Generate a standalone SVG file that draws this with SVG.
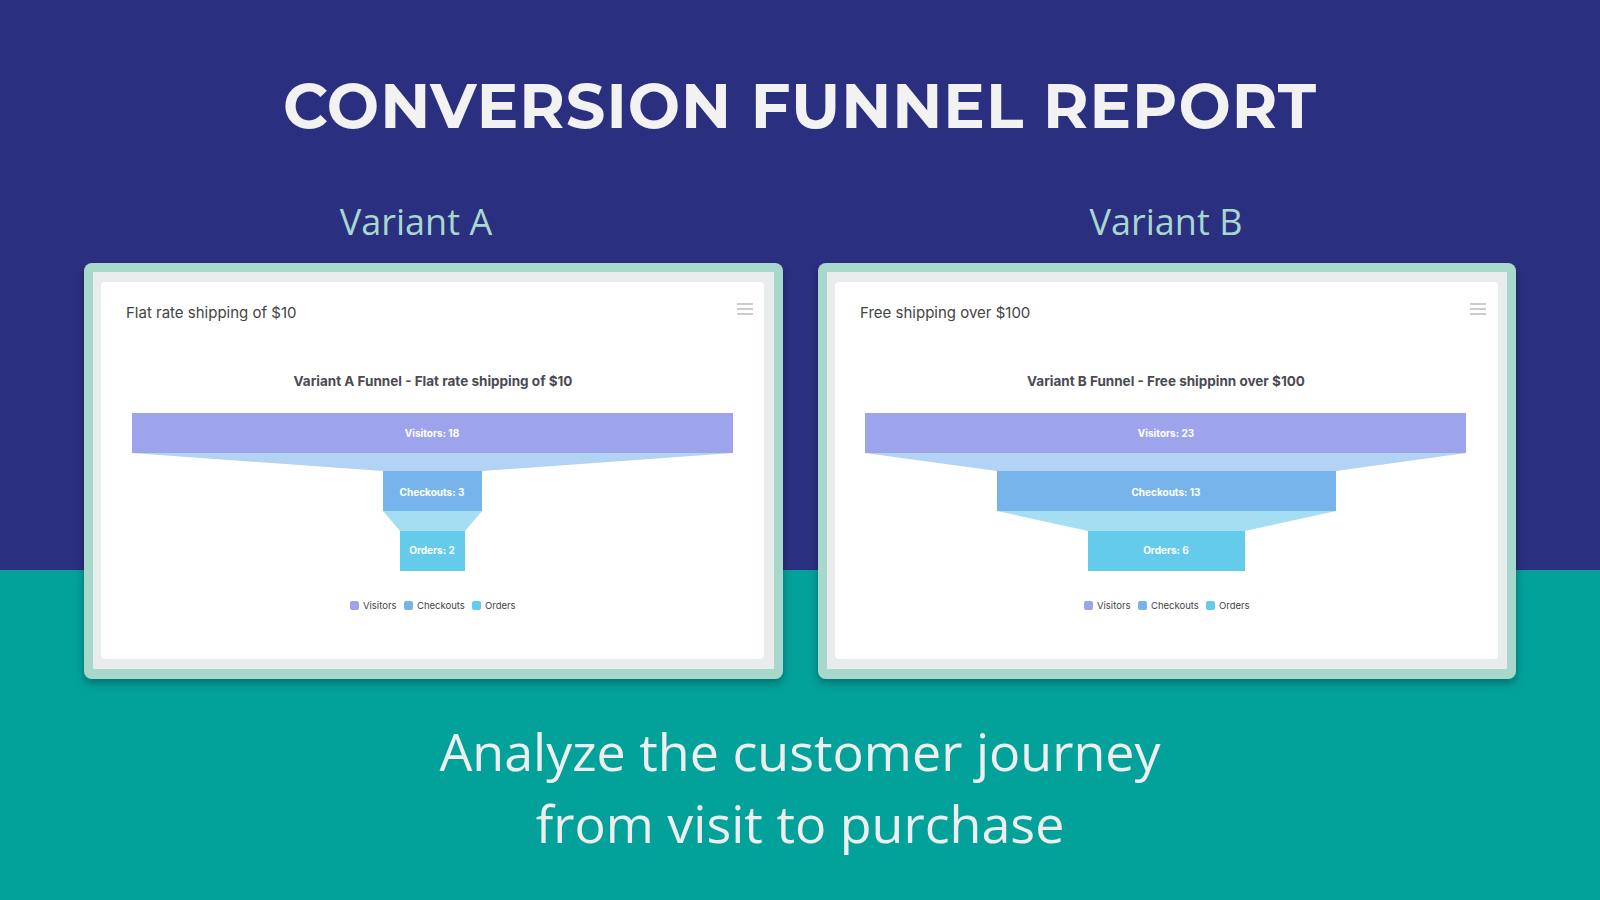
<svg xmlns="http://www.w3.org/2000/svg" width="1600" height="900" viewBox="0 0 1600 900">
<defs>
<style>
.ttl{font-family:Montserrat,"Liberation Sans",sans-serif;font-weight:700;font-size:62px;fill:#f2f2f2;letter-spacing:1px}
.var{font-family:"Open Sans",sans-serif;font-size:36px;fill:#a8d8cc}
.ct{font-family:Inter,"Liberation Sans",sans-serif;font-size:15px;fill:#444}
.cht{font-family:Inter,"Liberation Sans",sans-serif;font-size:13.5px;font-weight:700;fill:#4a4a55}
.bl{font-family:Inter,"Liberation Sans",sans-serif;font-size:10px;font-weight:700;fill:#fff}
.lg{font-family:Inter,"Liberation Sans",sans-serif;font-size:9.5px;fill:#444}
.bot{font-family:"Open Sans",sans-serif;font-size:52px;fill:#eeeeee}
.outer{fill:#a8d8cc}
.band{fill:#e8ecec}
.card{fill:#fff}
.ham{stroke:#bbb;stroke-width:1.5}
</style>
<filter id="sh" x="-5%" y="-5%" width="110%" height="115%"><feDropShadow dx="0" dy="4" stdDeviation="4" flood-opacity="0.3"/></filter>
</defs>
<rect width="1600" height="570" fill="#2b2f80"/>
<rect y="570" width="1600" height="330" fill="#02a19a"/>
<text class="ttl" x="800" y="128" text-anchor="middle">CONVERSION FUNNEL REPORT</text>
<text class="var" x="416" y="235" text-anchor="middle">Variant A</text>
<text class="var" x="1166" y="235" text-anchor="middle">Variant B</text>

<g id="panelA">
<rect class="outer" x="84" y="263" width="699" height="416" rx="8" filter="url(#sh)"/>
<rect class="band" x="93" y="272" width="681" height="397"/>
<rect class="card" x="101" y="282" width="663" height="377" rx="4"/>
<text class="ct" x="126" y="318">Flat rate shipping of $10</text>
<g class="ham"><line x1="737" y1="304" x2="753" y2="304"/><line x1="737" y1="309" x2="753" y2="309"/><line x1="737" y1="314" x2="753" y2="314"/></g>
<text class="cht" x="433" y="386" text-anchor="middle">Variant A Funnel - Flat rate shipping of $10</text>
<polygon points="132,453 733,453 482,471 383,471" fill="#b3d3f5"/>
<rect x="132" y="413" width="601" height="40" fill="#9ea4ec"/>
<polygon points="383,511 482,511 465,531 400,531" fill="#a5def2"/>
<rect x="383" y="471" width="99" height="40" fill="#78b4ec"/>
<rect x="400" y="531" width="65" height="40" fill="#64cbea"/>
<text class="bl" x="432" y="437" text-anchor="middle">Visitors: 18</text>
<text class="bl" x="432" y="496" text-anchor="middle">Checkouts: 3</text>
<text class="bl" x="432" y="554" text-anchor="middle">Orders: 2</text>
<rect x="350" y="601" width="9" height="9" rx="2" fill="#9ea4ec"/><text class="lg" x="363" y="609">Visitors</text>
<rect x="404" y="601" width="9" height="9" rx="2" fill="#78b4ec"/><text class="lg" x="417" y="609">Checkouts</text>
<rect x="472" y="601" width="9" height="9" rx="2" fill="#64cbea"/><text class="lg" x="485" y="609">Orders</text>
</g>

<g id="panelB">
<rect class="outer" x="818" y="263" width="698" height="416" rx="8" filter="url(#sh)"/>
<rect class="band" x="827" y="272" width="680" height="397"/>
<rect class="card" x="835" y="282" width="663" height="377" rx="4"/>
<text class="ct" x="860" y="318">Free shipping over $100</text>
<g class="ham"><line x1="1470" y1="304" x2="1486" y2="304"/><line x1="1470" y1="309" x2="1486" y2="309"/><line x1="1470" y1="314" x2="1486" y2="314"/></g>
<text class="cht" x="1166" y="386" text-anchor="middle">Variant B Funnel - Free shippinn over $100</text>
<polygon points="865,453 1466,453 1336,471 997,471" fill="#b3d3f5"/>
<rect x="865" y="413" width="601" height="40" fill="#9ea4ec"/>
<polygon points="997,511 1336,511 1245,531 1088,531" fill="#a5def2"/>
<rect x="997" y="471" width="339" height="40" fill="#78b4ec"/>
<rect x="1088" y="531" width="157" height="40" fill="#64cbea"/>
<text class="bl" x="1166" y="437" text-anchor="middle">Visitors: 23</text>
<text class="bl" x="1166" y="496" text-anchor="middle">Checkouts: 13</text>
<text class="bl" x="1166" y="554" text-anchor="middle">Orders: 6</text>
<rect x="1084" y="601" width="9" height="9" rx="2" fill="#9ea4ec"/><text class="lg" x="1097" y="609">Visitors</text>
<rect x="1138" y="601" width="9" height="9" rx="2" fill="#78b4ec"/><text class="lg" x="1151" y="609">Checkouts</text>
<rect x="1206" y="601" width="9" height="9" rx="2" fill="#64cbea"/><text class="lg" x="1219" y="609">Orders</text>
</g>

<text class="bot" x="800" y="771" text-anchor="middle">Analyze the customer journey</text>
<text class="bot" x="800" y="843" text-anchor="middle">from visit to purchase</text>
</svg>
